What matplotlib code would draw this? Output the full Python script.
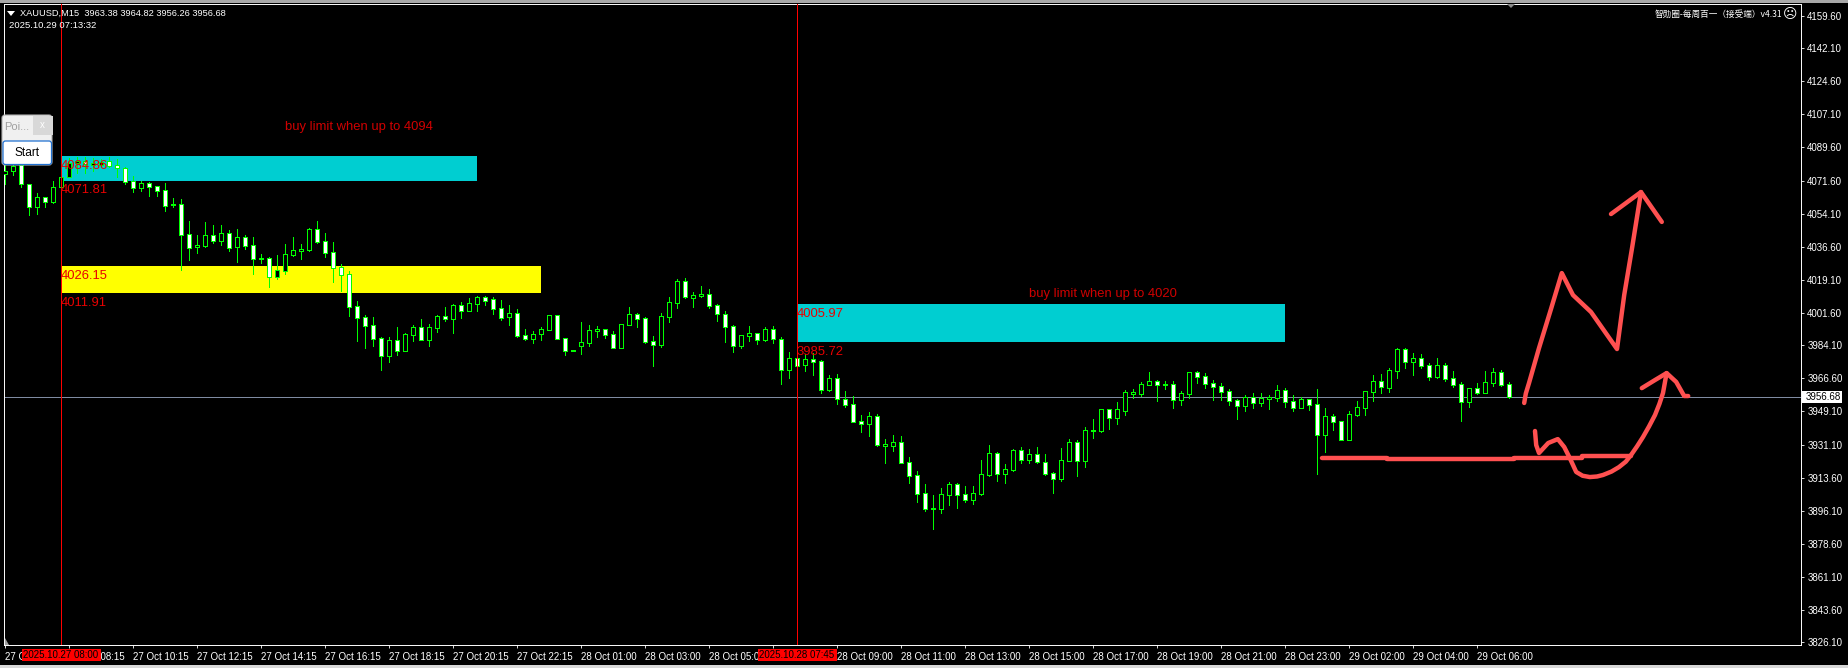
import numpy as np
import matplotlib
matplotlib.use('Agg')
import matplotlib.pyplot as plt
from matplotlib.patches import FancyBboxPatch, Rectangle, Polygon

# bar numbers are counted from the 27 Oct 08:00 bar (first red line)
first_bar = -7

opens = [
    4075.3, 4077.1, 4080.1, 4069.8, 4057.5, 4062.9, 4060.6, 4068.6, 4073.5, 4081.3,
    4082.0, 4080.3, 4080.3, 4082.0, 4079.9, 4078.3, 4071.4, 4068.0, 4070.3, 4068.7,
    4066.6, 4058.6, 4059.2, 4043.2, 4036.3, 4037.2, 4042.7, 4039.8, 4043.8, 4036.3,
    4041.6, 4037.4, 4030.1, 4030.4, 4020.7, 4023.9, 4032.4, 4034.5, 4035.0, 4045.9,
    4039.5, 4033.6, 4025.7, 4021.9, 4004.9, 3999.1, 3994.8, 3987.9, 3978.7, 3986.8,
    3981.3, 3989.8, 3993.8, 3987.2, 3993.6, 3999.6, 3998.4, 4005.5, 4002.6, 4006.3,
    4009.7, 4008.6, 4003.8, 3999.4, 4001.2, 3989.5, 3987.7, 3990.4, 3992.5, 4000.1,
    3987.9, 3981.3, 3984.0, 3985.6, 3992.0, 3992.7, 3990.0, 3982.9, 3995.2, 4000.7,
    3998.5, 3986.3, 3984.5, 3999.4, 4006.9, 4018.2, 4009.5, 4010.6, 4011.3, 4005.5,
    4000.7, 3994.3, 3984.0, 3989.3, 3990.6, 3987.0, 3992.7, 3987.4, 3971.2, 3977.3,
    3973.9, 3976.7, 3975.7, 3960.6, 3966.6, 3955.5, 3952.8, 3943.8, 3942.5, 3946.4,
    3930.8, 3930.8, 3932.6, 3921.9, 3915.0, 3905.5, 3897.1, 3897.3, 3904.7, 3910.2,
    3904.9, 3902.1, 3905.3, 3915.4, 3926.7, 3915.9, 3918.0, 3928.3, 3923.4, 3926.2,
    3921.9, 3916.1, 3913.3, 3922.8, 3932.6, 3922.8, 3938.6, 3938.8, 3950.1, 3945.7,
    3949.4, 3958.5, 3958.5, 3963.3, 3965.0, 3963.1, 3963.4, 3955.3, 3958.5, 3969.8,
    3967.7, 3964.0, 3962.4, 3959.7, 3954.9, 3952.1, 3956.7, 3953.7, 3955.8, 3956.3,
    3960.3, 3954.4, 3951.0, 3955.5, 3952.8, 3936.7, 3946.4, 3943.8, 3934.0, 3947.3,
    3950.9, 3959.5, 3965.0, 3961.7, 3970.7, 3982.1, 3975.1, 3977.3, 3973.5, 3967.5,
    3973.5, 3966.6, 3963.4, 3954.2, 3961.3, 3959.0, 3964.3, 3969.8, 3963.38,
]
highs = [
    4080.1, 4081.0, 4081.0, 4069.8, 4065.0, 4063.2, 4071.6, 4074.2, 4083.6, 4084.2,
    4084.5, 4083.6, 4083.1, 4084.2, 4083.1, 4079.2, 4074.2, 4071.6, 4071.2, 4068.7,
    4070.3, 4062.7, 4061.8, 4050.3, 4042.9, 4049.6, 4048.2, 4048.2, 4045.5, 4046.1,
    4042.9, 4041.8, 4032.8, 4031.0, 4032.2, 4038.1, 4041.8, 4038.1, 4046.6, 4050.3,
    4044.1, 4039.1, 4027.4, 4023.7, 4007.8, 4000.1, 3999.2, 3988.6, 3988.6, 3993.9,
    3990.6, 3995.0, 3998.2, 3995.5, 4000.3, 4004.6, 4006.0, 4007.2, 4009.4, 4010.2,
    4010.2, 4009.9, 4008.3, 4005.6, 4003.5, 3992.9, 3991.8, 3994.1, 4000.1, 4000.1,
    3987.9, 3981.7, 3996.6, 3995.0, 3994.5, 3992.7, 3991.8, 3995.4, 4004.6, 4001.2,
    3999.2, 3989.1, 4001.4, 4009.9, 4019.5, 4020.0, 4012.6, 4015.7, 4014.1, 4006.2,
    4002.4, 3995.0, 3989.5, 3994.5, 3990.9, 3993.9, 3994.5, 3988.6, 3980.6, 3978.1,
    3979.6, 3979.9, 3976.4, 3968.4, 3968.9, 3959.9, 3957.2, 3947.1, 3948.7, 3947.6,
    3934.4, 3936.5, 3935.9, 3924.8, 3917.3, 3910.4, 3904.6, 3908.3, 3911.5, 3910.8,
    3909.4, 3909.4, 3923.2, 3931.2, 3927.4, 3921.1, 3929.0, 3930.1, 3929.0, 3930.1,
    3926.4, 3916.8, 3929.6, 3934.4, 3933.8, 3940.7, 3945.0, 3950.1, 3950.1, 3954.0,
    3960.4, 3961.0, 3964.7, 3970.0, 3965.7, 3965.2, 3965.2, 3959.9, 3969.8, 3970.5,
    3969.5, 3965.7, 3964.2, 3961.0, 3955.6, 3957.8, 3958.8, 3958.8, 3957.8, 3963.1,
    3961.5, 3957.8, 3956.5, 3955.5, 3960.9, 3950.7, 3947.6, 3943.8, 3949.2, 3954.6,
    3959.7, 3968.4, 3968.9, 3972.1, 3982.8, 3982.8, 3980.1, 3979.6, 3974.8, 3977.4,
    3974.8, 3970.5, 3964.7, 3961.3, 3964.1, 3970.5, 3972.1, 3971.1, 3964.82,
]
lows = [
    4070.0, 4074.8, 4068.6, 4053.5, 4054.0, 4057.9, 4059.7, 4068.6, 4073.5, 4076.0,
    4075.6, 4077.1, 4079.2, 4079.2, 4073.5, 4070.0, 4065.5, 4066.4, 4063.6, 4063.6,
    4055.6, 4057.7, 4024.2, 4029.5, 4033.3, 4036.5, 4038.6, 4037.5, 4034.5, 4028.7,
    4035.6, 4022.1, 4027.8, 4015.2, 4019.5, 4022.1, 4031.7, 4030.1, 4034.3, 4038.6,
    4031.1, 4017.9, 4013.1, 3999.8, 3986.5, 3982.8, 3983.8, 3971.1, 3975.3, 3979.0,
    3981.3, 3986.5, 3987.2, 3983.8, 3991.3, 3997.1, 3990.7, 3998.7, 4002.6, 4002.4,
    4005.6, 4000.8, 3997.7, 3995.0, 3988.6, 3987.0, 3985.4, 3987.0, 3992.5, 3987.7,
    3979.0, 3981.3, 3979.6, 3983.8, 3988.6, 3988.1, 3982.9, 3982.9, 3995.2, 3993.9,
    3985.4, 3973.2, 3983.3, 3996.6, 4004.0, 4009.4, 4004.6, 4009.9, 4004.0, 3997.1,
    3986.0, 3980.6, 3982.8, 3986.5, 3984.9, 3986.5, 3985.4, 3963.6, 3966.8, 3973.4,
    3970.5, 3968.4, 3958.8, 3959.9, 3953.0, 3951.4, 3943.4, 3938.1, 3935.9, 3930.6,
    3921.6, 3928.0, 3921.8, 3910.9, 3900.8, 3896.1, 3886.5, 3895.0, 3899.2, 3897.7,
    3900.8, 3899.8, 3904.6, 3914.7, 3912.0, 3910.9, 3917.3, 3921.6, 3921.6, 3921.6,
    3915.2, 3905.6, 3912.0, 3922.8, 3914.7, 3919.5, 3934.9, 3938.1, 3939.7, 3942.3,
    3947.1, 3956.2, 3957.2, 3963.3, 3954.6, 3961.0, 3950.9, 3952.4, 3956.2, 3964.2,
    3961.5, 3955.1, 3955.1, 3952.4, 3945.0, 3949.3, 3950.9, 3951.9, 3950.3, 3954.6,
    3951.4, 3949.3, 3951.0, 3949.8, 3915.7, 3927.4, 3939.1, 3934.0, 3934.0, 3946.6,
    3947.1, 3954.6, 3958.8, 3959.4, 3966.8, 3972.1, 3968.4, 3972.1, 3965.7, 3966.8,
    3965.2, 3962.0, 3943.9, 3951.4, 3958.3, 3959.0, 3962.5, 3962.5, 3956.26,
]
closes = [
    4077.1, 4079.5, 4069.8, 4057.5, 4062.9, 4060.6, 4068.6, 4073.5, 4081.3, 4082.0,
    4080.6, 4081.0, 4081.7, 4079.7, 4078.3, 4071.2, 4068.0, 4070.3, 4068.5, 4066.4,
    4058.4, 4059.3, 4043.0, 4036.1, 4037.4, 4042.7, 4039.8, 4043.8, 4036.1, 4041.6,
    4037.2, 4030.3, 4030.4, 4020.7, 4024.1, 4032.6, 4034.7, 4035.2, 4045.9, 4039.3,
    4033.5, 4025.5, 4021.8, 4004.7, 3998.9, 3994.6, 3987.7, 3978.7, 3986.8, 3981.3,
    3990.0, 3993.8, 3987.2, 3993.8, 3999.6, 3998.4, 4005.5, 4002.6, 4006.5, 4009.7,
    4007.9, 4003.7, 3998.9, 4001.2, 3989.3, 3987.7, 3990.0, 3992.7, 4000.1, 3987.7,
    3981.3, 3981.7, 3985.8, 3992.2, 3992.7, 3989.9, 3982.9, 3995.4, 4000.7, 3998.4,
    3986.1, 3984.5, 3999.6, 4007.1, 4018.2, 4010.1, 4010.8, 4011.3, 4005.3, 4000.7,
    3994.1, 3984.0, 3989.5, 3990.6, 3987.2, 3992.7, 3987.7, 3971.2, 3977.3, 3973.4,
    3976.7, 3975.5, 3960.6, 3966.6, 3955.8, 3952.6, 3943.6, 3942.5, 3946.4, 3931.3,
    3931.5, 3932.6, 3921.8, 3914.9, 3905.3, 3897.3, 3897.7, 3904.9, 3910.2, 3904.7,
    3902.1, 3905.5, 3915.6, 3926.7, 3915.9, 3918.2, 3928.3, 3923.4, 3926.2, 3921.9,
    3915.9, 3912.9, 3923.0, 3932.6, 3922.8, 3939.0, 3939.1, 3950.1, 3945.7, 3950.1,
    3959.2, 3959.4, 3963.4, 3965.0, 3963.3, 3963.6, 3955.3, 3958.7, 3969.8, 3967.5,
    3963.8, 3962.2, 3959.5, 3954.8, 3952.1, 3956.7, 3953.7, 3956.0, 3956.7, 3960.3,
    3954.2, 3951.0, 3955.5, 3952.6, 3936.7, 3946.4, 3943.6, 3934.0, 3947.5, 3951.2,
    3959.7, 3965.0, 3961.8, 3970.9, 3982.1, 3975.5, 3977.3, 3973.4, 3967.5, 3973.5,
    3966.4, 3963.3, 3954.2, 3961.3, 3959.0, 3964.5, 3969.8, 3963.3, 3956.68,
]

price_ticks = [4159.60, 4142.10, 4124.60, 4107.10, 4089.60, 4071.60, 4054.10, 4036.60,
               4019.10, 4001.60, 3984.10, 3966.60, 3949.10, 3931.10, 3913.60, 3896.10,
               3878.60, 3861.10, 3843.60, 3826.10]
time_labels = ['27 Oct 06:15', '27 Oct 08:15', '27 Oct 10:15', '27 Oct 12:15', '27 Oct 14:15',
               '27 Oct 16:15', '27 Oct 18:15', '27 Oct 20:15', '27 Oct 22:15', '28 Oct 01:00',
               '28 Oct 03:00', '28 Oct 05:00', '28 Oct 07:00', '28 Oct 09:00', '28 Oct 11:00',
               '28 Oct 13:00', '28 Oct 15:00', '28 Oct 17:00', '28 Oct 19:00', '28 Oct 21:00',
               '28 Oct 23:00', '29 Oct 02:00', '29 Oct 04:00', '29 Oct 06:00']
bars_per_label = 8

current_price = 3956.68
red_lines = [0, 92]
red_line_stamps = ['2025.10.27 08:00', '2025.10.28 07:45']

# zones: first bar, last bar, top price, bottom price, colour
zone_bars = [(0, 52), (0, 60), (92, 153)]
zone_prices = [(4084.86, 4071.81), (4026.15, 4011.91), (4005.97, 3985.72)]
zone_colors = ['#00ced1', '#ffff00', '#00ced1']
zone_texts = ['buy limit when up to 4094', None, 'buy limit when up to 4020']
zone_text_at = [(28, 4100.2), None, (121, 4011.7)]

# hand drawn strokes, (bar, price)
stroke_up = [(182.9, 3953.5), (183.1, 3958.5), (183.5, 3964.1), (184.75, 3982.7), (186.25, 4003.5), (187.6, 4022.6),
             (189.0, 4010.9), (191.25, 4001.9), (194.5, 3982.2), (195.4, 4010.9), (196.4, 4036.4),
             (197.5, 4065.7)]
stroke_up_head = [(193.75, 4054.0), (197.5, 4065.7), (200.1, 4049.8)]
stroke_flat = [(157.6, 3924.5), (165.75, 3924.5), (165.75, 3923.7), (181.6, 3923.7), (181.6, 3924.5),
               (190.1, 3924.5), (190.1, 3925.3), (196.25, 3925.3)]
stroke_curve = [(184.25, 3938.6), (184.4, 3931.1), (184.75, 3926.9), (185.9, 3932.2), (187.1, 3934.3),
                (187.9, 3930.1), (188.6, 3924.2), (189.4, 3916.8), (190.2, 3914.8), (191.1, 3914.1),
                (192.0, 3914.4), (192.75, 3915.2), (193.8, 3917.0), (194.75, 3919.4), (195.6, 3922.3),
                (196.25, 3925.8), (197.0, 3930.4), (197.75, 3935.4), (198.5, 3941.0), (199.25, 3947.1),
                (199.8, 3953.0), (200.25, 3958.8), (200.7, 3969.4)]
stroke_curve_head = [(197.6, 3961.4), (199.25, 3965.7), (200.7, 3969.4), (201.9, 3964.7),
                     (202.9, 3957.2), (203.4, 3957.2)]

W, H = 1848, 668
FONT = 'Liberation Sans'
GREEN = '#00ff00'
plt.rcParams['font.family'] = [FONT, 'DejaVu Sans']

fig = plt.figure(figsize=(W / 100, H / 100), dpi=100, facecolor='black')

# chart frame in pixels
left, right, top, bottom = 4, 1801, 4, 645
ax = fig.add_axes([left / W, 1 - bottom / H, (right - left) / W, (bottom - top) / H], facecolor='black')
px_bar = 8.0
ax.set_xlim((left - 61) / px_bar, (right - 61) / px_bar)
ax.set_ylim(3824.77, 4165.72)

for (b0, b1), (p0, p1), color in zip(zone_bars, zone_prices, zone_colors):
    ax.add_patch(Rectangle((b0, p1), b1 - b0, p0 - p1, facecolor=color, edgecolor='none', zorder=1))

ax.axhline(current_price, color='#8490a8', linewidth=0.7, zorder=2)

bars = np.arange(first_bar, first_bar + len(opens))
opens = np.array(opens)
closes = np.array(closes)
ax.vlines(bars, lows, highs, color=GREEN, linewidth=0.5, zorder=3, antialiased=False)
body_low = np.minimum(opens, closes)
body_height = np.abs(closes - opens)
body_colors = ['white' if c < o else 'black' for o, c in zip(opens, closes)]
ax.bar(bars, body_height, bottom=body_low, width=0.5, facecolor=body_colors, edgecolor=GREEN,
       linewidth=0.5, zorder=4, antialiased=False)

for x in red_lines:
    ax.axvline(x, color='#ff0000', linewidth=0.5, zorder=5, antialiased=False)

for (b0, _), (p0, p1) in zip(zone_bars, zone_prices):
    for price in (p0, p1):
        ax.annotate(f'{price:.2f}', (b0, price), xytext=(-0.5, -2.6), textcoords='offset points',
                    color='#e80000', fontsize=9.4, va='top', ha='left', zorder=6)

for label, at in zip(zone_texts, zone_text_at):
    if label:
        ax.text(at[0], at[1], label, color='#d00000', fontsize=9.4, va='center', ha='left', zorder=6)

for pts in (stroke_up, stroke_up_head, stroke_flat, stroke_curve, stroke_curve_head):
    xs, ys = zip(*pts)
    ax.plot(xs, ys, color='#ff5050', linewidth=3.2, solid_capstyle='round', solid_joinstyle='round', zorder=7)

ax.spines[:].set_color('white')
ax.spines[:].set_linewidth(0.7)
ax.yaxis.tick_right()
ax.set_yticks(price_ticks)
ax.set_yticklabels([f'{p:.2f}' for p in price_ticks])
ax.set_xticks([first_bar + bars_per_label * n for n in range(len(time_labels))])
ax.set_xticklabels(time_labels, ha='left')
ax.tick_params(axis='y', colors='white', length=2.5, width=0.6, labelsize=7.0, pad=2)
ax.tick_params(axis='x', colors='white', length=2.5, width=0.6, labelsize=7.0, pad=2.5)

# everything around the chart, drawn in pixels
ov = fig.add_axes([0, 0, 1, 1], facecolor='none')
ov.set_xlim(0, W)
ov.set_ylim(H, 0)
ov.axis('off')

ov.add_patch(Rectangle((0, 0), W, 3, facecolor='#a8a8a8', edgecolor='none'))
ov.add_patch(Rectangle((0, 665), W, 3, facecolor='#d8d8d8', edgecolor='none'))
ov.add_patch(Polygon([(1507, 4), (1515, 4), (1511, 8)], facecolor='#8a8a8a', edgecolor='none'))
ov.add_patch(Polygon([(5, 638), (9, 645), (5, 645)], facecolor='#a0a0a0', edgecolor='none'))

ov.add_patch(Polygon([(7, 11), (15, 11), (11, 16)], facecolor='white', edgecolor='none'))
ov.text(20, 13, 'XAUUSD,M15  3963.38 3964.82 3956.26 3956.68', color='white', fontsize=6.7, va='center')
ov.text(9, 26, '2025.10.29 07:13:32', color='white', fontsize=6.8, va='center')

ov.text(1782, 14, '智勋圈-每周百一（接受端）v4.31', color='white', fontsize=6.2, va='center', ha='right',
        family=['Noto Sans CJK SC', 'DejaVu Sans'])
ov.text(1790, 14, '\u2639', color='white', fontsize=10, va='center', ha='center', family='DejaVu Sans')

# current price tag
ov.add_patch(Rectangle((1802, 391), 40, 11.5, facecolor='white', edgecolor='none'))
ov.text(1806, 396.8, f'{current_price:.2f}', color='black', fontsize=7.0, va='center')

# date stamps of the two red lines, over the time labels
for x, label in zip(red_lines, red_line_stamps):
    px = 61 + px_bar * x
    ov.add_patch(Rectangle((px - 39.5, 649), 79.5, 11.5, facecolor='#ff0000', edgecolor='none', zorder=3))
    ov.text(px, 655, label, color='black', fontsize=7.0, va='center', ha='center', zorder=4)

# small EA panel
ov.add_patch(FancyBboxPatch((2, 115), 50, 50, boxstyle='round,pad=0,rounding_size=3', facecolor='#f0f0f0',
                            edgecolor='#b0b0b0', linewidth=0.8, zorder=5))
ov.add_patch(Rectangle((33, 116), 19.5, 19, facecolor='#d8d8d8', edgecolor='none', zorder=6))
ov.text(42.5, 125.5, 'x', color='white', fontsize=7, va='center', ha='center', zorder=7)
ov.text(4.5, 127, 'Poi...', color='#a0a0a0', fontsize=8, va='center', zorder=7)
ov.add_patch(FancyBboxPatch((3, 141), 48.5, 23.5, boxstyle='round,pad=0,rounding_size=2.5', facecolor='white',
                            edgecolor='#1f70d0', linewidth=0.9, zorder=6))
ov.text(27, 152.5, 'Start', color='black', fontsize=8.6, va='center', ha='center', zorder=7)

fig.savefig('out.png', dpi=100, facecolor='black')
